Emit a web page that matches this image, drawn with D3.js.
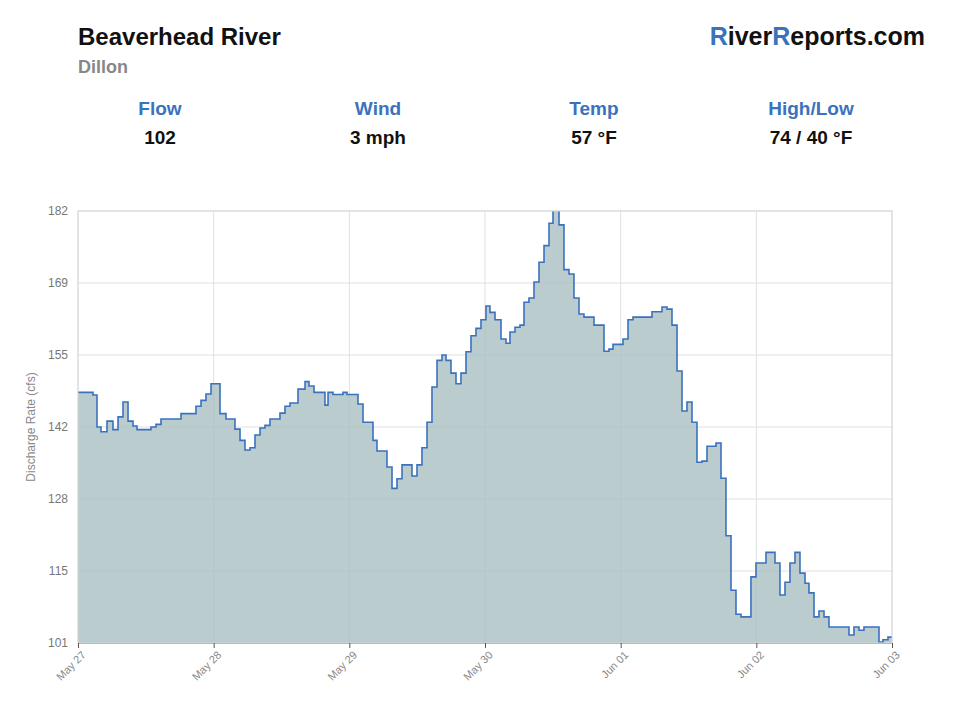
<!DOCTYPE html>
<html><head><meta charset="utf-8">
<script src="https://cdn.jsdelivr.net/npm/d3@7/dist/d3.min.js"></script>
<style>body{margin:0;background:#fff;font-family:"Helvetica Neue",Arial,"Liberation Sans",sans-serif}</style>
</head><body><svg id="c" width="960" height="720"></svg>
<script>
const hours=[0,2.65,3.36,4.07,5.13,6.19,7.08,7.96,8.85,9.73,10.44,12.91,13.8,14.68,18.22,20.87,21.76,22.64,23.53,25.12,26.18,27.77,28.66,29.54,30.43,31.31,32.2,33.08,33.96,35.73,36.62,37.5,38.92,40.16,40.86,41.75,43.69,44.23,45.11,46.88,47.59,49.53,50.42,52.19,52.89,54.66,55.55,56.43,57.32,59.08,59.97,60.85,61.74,62.62,63.51,64.39,65.1,65.98,66.87,67.75,68.64,69.52,70.41,71.29,72.17,72.88,73.77,74.83,75.71,76.42,77.31,78.19,78.9,79.78,80.67,81.55,82.44,83.32,84.03,85.09,85.97,86.86,87.74,88.63,89.51,91.28,93.05,93.93,94.64,96.41,97.3,98.18,101.54,103.31,104.2,105.08,105.97,106.85,107.73,108.62,109.5,110.39,111.27,112.86,113.75,114.63,115.52,116.4,117.29,119.05,119.94,121.71,123.3,124.18,125.07,125.95,126.84,127.72,128.61,129.31,130.2,131.08,131.97,132.85,136.39,137.27,138.16,139.04,141.7,142.4,143.29,144];
const flow=[148,147.5,141.5,140.6,142.6,141,143.4,146.2,142.6,141.7,141,141.5,142,143,144,145.4,146.5,147.7,149.6,144,143,141.1,139,137.2,137.6,140,141.3,141.8,143,144.1,145.4,146,148.6,150,149.2,148,145.6,148,147.6,148,147.6,145.8,142.4,139,137,134,130,131.8,134.4,132.3,134.4,137.6,142.4,149,154,155,154,151.6,149.6,151.6,155.6,158.6,160,161.6,164.2,163,161.6,158,157.2,159.3,160.2,160.6,164.9,165.7,168.7,172.4,175.5,179.7,183,179.4,171,170.2,165.7,162.7,162.1,160.6,155.7,156.1,157,158,161.6,162.1,163.1,164,163.6,160.6,152,144.5,146.2,142.4,134.9,135.1,137.9,138.5,131.9,121.1,110.9,106.4,105.9,113.4,116,118,116,110,112.4,116,118,114.1,112.2,110.4,105.9,107,105.9,104,102.5,104,103.4,104,101.2,101.6,102.1,102.1];
const yTicks=[101,114.5,128,141.5,155,168.5,182];
const xTickLabels=["May 27","May 28","May 29","May 30","Jun 01","Jun 02","Jun 03"];
const statLabels=["Flow","Wind","Temp","High/Low"];
const statValues=["102","3 mph","57 °F","74 / 40 °F"];

const svg=d3.select("#c");
const blue="#3a72bd";
const L=78,R=892,T=211,B=643;
svg.append("text").attr("x",78).attr("y",45).attr("font-size",24).attr("font-weight",700).attr("fill","#111").text("Beaverhead River");
svg.append("text").attr("x",78).attr("y",73).attr("font-size",18).attr("font-weight",700).attr("fill","#888").text("Dillon");
const brand=svg.append("text").attr("x",925).attr("y",45).attr("text-anchor","end").attr("font-size",25).attr("font-weight",700).attr("fill","#111");
brand.append("tspan").attr("fill",blue).text("R");brand.append("tspan").text("iver");
brand.append("tspan").attr("fill",blue).text("R");brand.append("tspan").text("eports.com");
const sx=[160,378,594,811];
statLabels.forEach((s,i)=>{
 svg.append("text").attr("x",sx[i]).attr("y",115).attr("text-anchor","middle").attr("font-size",19).attr("font-weight",700).attr("fill",blue).text(s);
 svg.append("text").attr("x",sx[i]).attr("y",144).attr("text-anchor","middle").attr("font-size",19).attr("font-weight",700).attr("fill","#111").text(statValues[i]);
});
const x=d3.scaleLinear().domain([0,144]).range([L,R]);
const y=d3.scaleLinear().domain([101,182]).range([B,T]);
const g=svg.append("g");
g.selectAll(".gy").data(yTicks).join("line").attr("x1",L).attr("x2",R).attr("y1",d=>y(d)).attr("y2",d=>y(d)).attr("stroke","#e0e0e0");
g.selectAll(".gx").data(xTickLabels).join("line").attr("x1",(d,i)=>x(i*24)).attr("x2",(d,i)=>x(i*24)).attr("y1",T).attr("y2",B).attr("stroke","#e0e0e0");
svg.append("clipPath").attr("id","cl").append("rect").attr("x",L).attr("y",T).attr("width",R-L).attr("height",B-T);
const pts=hours.map((h,i)=>[h,flow[i]]);
g.append("path").datum(pts).attr("clip-path","url(#cl)").attr("fill","#a9bfc2").attr("fill-opacity",0.8)
 .attr("d",d3.area().x(d=>x(d[0])).y0(B).y1(d=>y(d[1])).curve(d3.curveStepAfter));
g.append("path").datum(pts).attr("clip-path","url(#cl)").attr("fill","none").attr("stroke",blue).attr("stroke-width",1.6)
 .attr("d",d3.line().x(d=>x(d[0])).y(d=>y(d[1])).curve(d3.curveStepAfter));
g.append("rect").attr("x",L).attr("y",T).attr("width",R-L).attr("height",B-T).attr("fill","none").attr("stroke","#d8d8d8");
const ya=svg.append("g").attr("transform",`translate(${L},0)`).call(d3.axisLeft(y).tickValues(yTicks).tickSize(0).tickPadding(10).tickFormat(d3.format(".0f")));
ya.select(".domain").remove();ya.selectAll("text").attr("fill","#777").attr("font-size",12);
const xa=svg.append("g").attr("transform",`translate(0,${B})`).call(d3.axisBottom(x).tickValues(xTickLabels.map((d,i)=>i*24)).tickSize(5).tickFormat((d,i)=>xTickLabels[i]));
xa.select(".domain").attr("stroke","#bbb");xa.selectAll("line").attr("stroke","#555");
xa.selectAll("text").attr("fill","#888").attr("font-size",11).attr("text-anchor","end").attr("dx","-0.3em").attr("dy","0.6em").attr("transform","rotate(-45)");
svg.append("text").attr("transform","translate(35,427) rotate(-90)").attr("text-anchor","middle").attr("font-size",12).attr("fill","#888").text("Discharge Rate (cfs)");
</script></body></html>
